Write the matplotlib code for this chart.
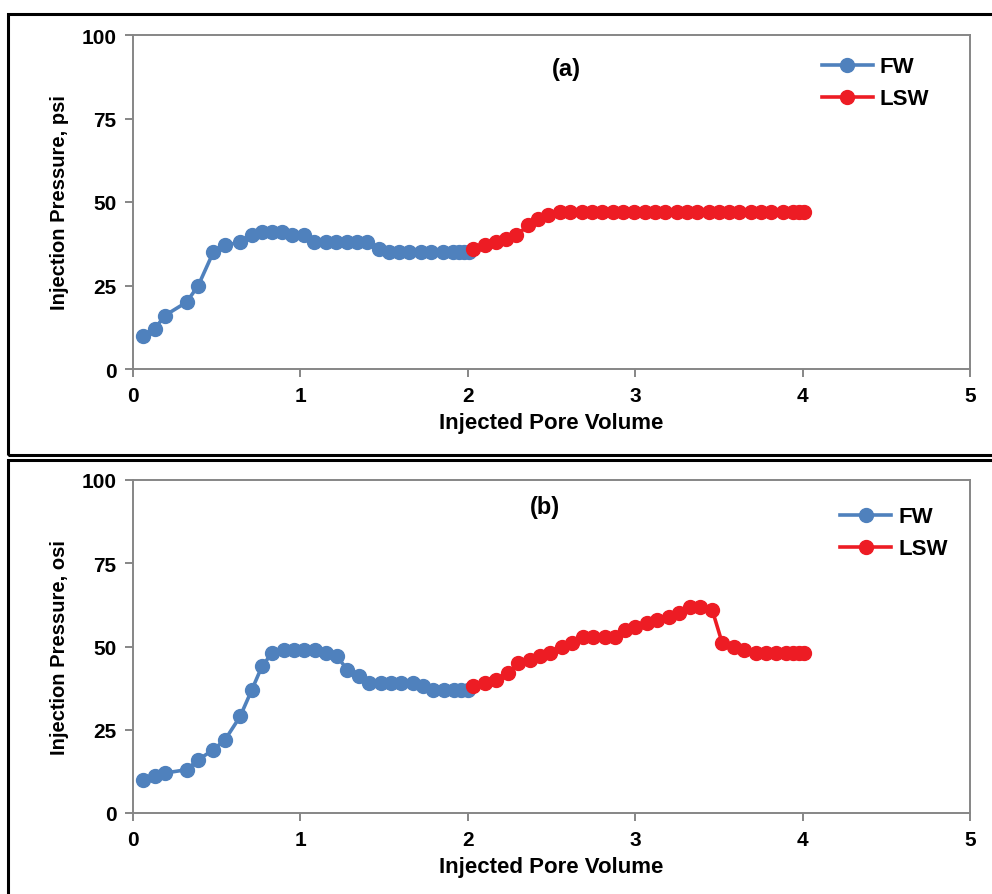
import matplotlib
matplotlib.use("Agg")
import matplotlib.pyplot as plt
from matplotlib.patches import Rectangle

# ---- data panel (a)
fw_a_x = [0.06, 0.13, 0.19, 0.32, 0.39, 0.48, 0.55, 0.64, 0.71, 0.77, 0.83, 0.89, 0.95,
          1.02, 1.08, 1.15, 1.21, 1.28, 1.34, 1.40, 1.47, 1.53, 1.59, 1.65, 1.72, 1.78,
          1.85, 1.91, 1.95, 1.98, 2.01]
fw_a_y = [10, 12, 16, 20, 25, 35, 37, 38, 40, 41, 41, 41, 40, 40, 38, 38, 38, 38, 38, 38,
          36, 35, 35, 35, 35, 35, 35, 35, 35, 35, 35]
lsw_a_x = [2.03, 2.10, 2.17, 2.23, 2.29, 2.36, 2.42, 2.48, 2.55, 2.61, 2.68, 2.74, 2.80,
           2.87, 2.93, 2.99, 3.06, 3.12, 3.18, 3.25, 3.31, 3.37, 3.44, 3.50, 3.56, 3.62,
           3.69, 3.75, 3.81, 3.88, 3.94, 3.98, 4.01]
lsw_a_y = [36, 37, 38, 39, 40, 43, 45, 46, 47, 47, 47, 47, 47, 47, 47, 47, 47, 47, 47, 47,
           47, 47, 47, 47, 47, 47, 47, 47, 47, 47, 47, 47, 47]

# ---- data panel (b)
fw_b_x = [0.06, 0.13, 0.19, 0.32, 0.39, 0.48, 0.55, 0.64, 0.71, 0.77, 0.83, 0.90, 0.96,
          1.02, 1.09, 1.15, 1.22, 1.28, 1.35, 1.41, 1.48, 1.54, 1.60, 1.67, 1.73, 1.79,
          1.86, 1.92, 1.96, 2.00]
fw_b_y = [10, 11, 12, 13, 16, 19, 22, 29, 37, 44, 48, 49, 49, 49, 49, 48, 47, 43, 41, 39,
          39, 39, 39, 39, 38, 37, 37, 37, 37, 37]
lsw_b_x = [2.03, 2.10, 2.17, 2.24, 2.30, 2.37, 2.43, 2.49, 2.56, 2.62, 2.69, 2.75, 2.82,
           2.88, 2.94, 3.00, 3.07, 3.13, 3.20, 3.26, 3.33, 3.39, 3.46, 3.52, 3.59, 3.65,
           3.72, 3.78, 3.84, 3.90, 3.94, 3.98, 4.01]
lsw_b_y = [38, 39, 40, 42, 45, 46, 47, 48, 50, 51, 53, 53, 53, 53, 55, 56, 57, 58, 59, 60,
           62, 62, 61, 51, 50, 49, 48, 48, 48, 48, 48, 48, 48]

x_ticks = [0, 1, 2, 3, 4, 5]
y_ticks = [0, 25, 50, 75, 100]
series_labels = ["FW", "LSW"]
panel_titles = ["(a)", "(b)"]
y_labels = ["Injection Pressure, psi", "Injection Pressure, osi"]
x_label = "Injected Pore Volume"

BLUE = "#4F81BD"
RED = "#ED1C24"
SPINE = "#868686"

plt.rcParams["font.family"] = ["Liberation Sans", "DejaVu Sans"]
plt.rcParams["font.weight"] = "bold"

W, H = 992, 895
fig = plt.figure(figsize=(W / 100, H / 100), dpi=100)

def fx(px):
    return px / W

def fy(py):
    return 1 - py / H

# panel borders
for top, bot in [(15, 456), (461, 897)]:
    r = Rectangle((fx(8), fy(bot)), fx(1100), fy(top) - fy(bot), transform=fig.transFigure,
                  fill=False, edgecolor="black", linewidth=2.2, clip_on=False)
    fig.add_artist(r)

panels = [
    (36, 370, fw_a_x, fw_a_y, lsw_a_x, lsw_a_y, (2.59, 90), (0.823, 0.936)),
    (481, 814, fw_b_x, fw_b_y, lsw_b_x, lsw_b_y, (2.46, 92), (0.845, 0.921)),
]

for i, (top, bot, fxs, fys, lxs, lys, tpos, lpos) in enumerate(panels):
    ax = fig.add_axes([fx(133), fy(bot), fx(970) - fx(133), fy(top) - fy(bot)])
    ax.plot(fxs, fys, color=BLUE, marker="o", markersize=10, linewidth=2.6,
            label=series_labels[0])
    ax.plot(lxs, lys, color=RED, marker="o", markersize=10, linewidth=2.6,
            label=series_labels[1])
    ax.set_xlim(0, 5)
    ax.set_ylim(0, 100)
    ax.set_xticks(x_ticks)
    ax.set_yticks(y_ticks)
    for s in ax.spines.values():
        s.set_color(SPINE)
        s.set_linewidth(1.4)
    ax.tick_params(direction="out", length=6, width=1.4, color=SPINE,
                   labelsize=15, pad=6)
    for lab in ax.get_xticklabels() + ax.get_yticklabels():
        lab.set_fontweight("bold")
    ax.set_xlabel(x_label, fontsize=16, fontweight="bold", labelpad=5)
    ax.set_ylabel(y_labels[i], fontsize=14.5, fontweight="bold", labelpad=9)
    ax.text(tpos[0], tpos[1], panel_titles[i], fontsize=17, fontweight="bold",
            ha="center", va="center")
    leg = ax.legend(loc="upper left", bbox_to_anchor=lpos, frameon=False,
                    fontsize=16, handlelength=2.3, labelspacing=0.5,
                    borderaxespad=0, borderpad=0, handletextpad=0.3)
    for t in leg.get_texts():
        t.set_fontweight("bold")
    for h in leg.legend_handles:
        h.set_markersize(10)

fig.savefig("out.png", dpi=100)
